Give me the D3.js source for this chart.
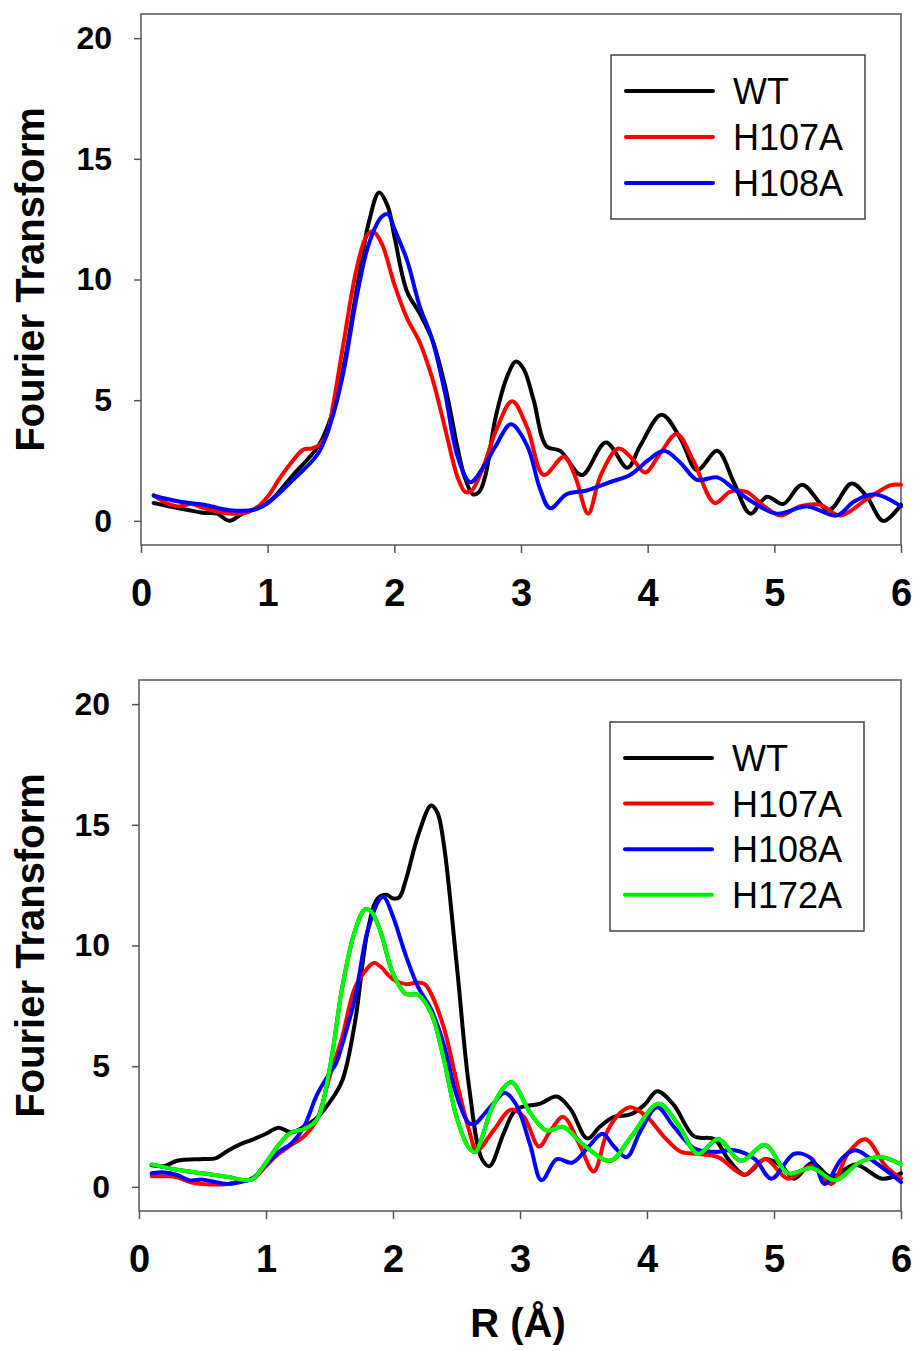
<!DOCTYPE html>
<meta charset="utf-8">
<style>
body { margin: 0; background: #fff; }
text { font-family: 'Liberation Sans', Arial, sans-serif; }
.tick text { font-weight: bold; fill: #000; }
.xaxis .tick text { font-size: 38px; }
.yaxis .tick text { font-size: 32px; }
.tick line { stroke: #555; stroke-width: 1.5px; }
.frame { fill: none; stroke: #555; stroke-width: 1.5px; }
.ytitle, .xtitle { font-size: 40px; font-weight: bold; }
.legendLabel { font-size: 36px; }
.series { fill: none; stroke-width: 4px; stroke-linejoin: round; stroke-linecap: round; }
</style>
<body>
<script src="https://d3js.org/d3.v7.min.js"></script>
<script>

// x ticks / y ticks
const xTicks = [0, 1, 2, 3, 4, 5, 6],
      yTicks = [0, 5, 10, 15, 20];

const topNames = ['WT', 'H107A', 'H108A'],
      bottomNames = ['WT', 'H107A', 'H108A', 'H172A'],
      colors = {WT: '#000000', H107A: '#ff0000', H108A: '#0000ff', H172A: '#00e600'};

// upper panel, [R, FT]
const topWT = [[0.1,0.74],[0.3,0.52],[0.5,0.33],[0.6,0.3],[0.7,0.0],[0.8,0.3],[1.0,0.74],[1.2,1.9],[1.4,3.1],[1.5,4.3],[1.6,6.4],[1.7,9.5],[1.8,12.4],[1.88,13.6],[1.95,13.0],[2.0,11.8],[2.1,9.5],[2.2,8.6],[2.3,7.5],[2.4,5.6],[2.5,3.0],[2.55,1.9],[2.62,1.1],[2.67,1.2],[2.72,1.9],[2.8,4.3],[2.9,6.1],[2.96,6.6],[3.02,6.3],[3.1,5.0],[3.2,3.1],[3.31,2.9],[3.48,1.9],[3.67,3.25],[3.84,2.2],[3.94,3.1],[4.11,4.4],[4.26,3.4],[4.39,2.1],[4.55,2.9],[4.68,1.6],[4.81,0.3],[4.94,1.0],[5.07,0.7],[5.22,1.5],[5.43,0.45],[5.61,1.55],[5.73,1.0],[5.86,0.0],[6.0,0.67]];
const topH107A = [[0.1,1.07],[0.2,0.74],[0.3,0.6],[0.4,0.7],[0.5,0.52],[0.7,0.3],[0.8,0.3],[0.9,0.5],[1.0,1.0],[1.1,1.8],[1.2,2.5],[1.28,2.95],[1.35,3.0],[1.42,3.2],[1.47,3.6],[1.52,4.9],[1.6,7.4],[1.7,10.4],[1.78,11.8],[1.83,12.0],[1.9,11.5],[2.0,9.8],[2.1,8.4],[2.2,7.4],[2.3,5.9],[2.4,3.85],[2.5,1.8],[2.56,1.2],[2.61,1.25],[2.7,2.2],[2.8,3.7],[2.93,4.96],[3.05,3.85],[3.18,1.9],[3.34,2.66],[3.43,1.8],[3.53,0.3],[3.63,1.9],[3.77,3.0],[3.89,2.5],[3.98,2.0],[4.1,2.8],[4.23,3.6],[4.36,2.5],[4.53,0.74],[4.65,1.2],[4.78,1.2],[4.92,0.6],[5.05,0.22],[5.2,0.6],[5.36,0.67],[5.52,0.22],[5.73,0.9],[5.92,1.48],[6.0,1.5]];
const topH108A = [[0.1,1.04],[0.3,0.8],[0.5,0.67],[0.7,0.44],[0.9,0.47],[1.0,0.74],[1.2,1.7],[1.4,2.8],[1.5,4.1],[1.6,6.2],[1.7,9.2],[1.8,11.5],[1.9,12.6],[1.95,12.7],[2.0,12.1],[2.1,10.8],[2.2,8.9],[2.3,7.5],[2.4,5.3],[2.5,2.66],[2.6,1.6],[2.7,2.2],[2.8,3.1],[2.92,4.0],[3.05,3.1],[3.15,1.33],[3.23,0.52],[3.36,1.1],[3.52,1.26],[3.7,1.6],[3.86,1.9],[4.0,2.5],[4.13,2.9],[4.26,2.4],[4.39,1.7],[4.55,1.8],[4.68,1.33],[4.84,0.74],[5.02,0.3],[5.26,0.6],[5.49,0.22],[5.63,0.8],[5.79,1.1],[6.0,0.6]];

// lower panel
const botWT = [[0.1,0.89],[0.2,0.86],[0.3,1.08],[0.5,1.15],[0.6,1.18],[0.7,1.5],[0.8,1.77],[0.9,1.97],[1.0,2.2],[1.1,2.45],[1.2,2.26],[1.3,2.5],[1.4,2.85],[1.5,3.5],[1.6,4.4],[1.7,6.8],[1.8,10.6],[1.88,11.95],[1.95,12.1],[2.0,11.95],[2.05,12.0],[2.1,12.7],[2.2,14.6],[2.3,15.8],[2.35,15.5],[2.4,14.2],[2.5,9.3],[2.6,4.1],[2.7,1.15],[2.76,0.86],[2.87,2.2],[2.97,3.2],[3.16,3.45],[3.29,3.74],[3.4,3.2],[3.53,2.0],[3.63,2.5],[3.74,2.9],[3.87,3.0],[3.98,3.4],[4.08,3.96],[4.21,3.4],[4.37,2.1],[4.53,1.97],[4.64,1.15],[4.77,0.5],[4.93,1.15],[5.06,0.86],[5.16,0.34],[5.3,1.0],[5.45,0.41],[5.64,0.93],[5.85,0.34],[6.0,0.56]];
const botH107A = [[0.1,0.44],[0.2,0.44],[0.3,0.4],[0.4,0.2],[0.5,0.12],[0.7,0.12],[0.8,0.24],[0.9,0.34],[1.0,0.86],[1.1,1.37],[1.2,1.74],[1.3,2.1],[1.4,2.78],[1.5,4.55],[1.6,6.2],[1.7,8.25],[1.8,9.06],[1.85,9.28],[1.9,9.13],[2.0,8.6],[2.1,8.4],[2.2,8.47],[2.25,8.4],[2.3,8.0],[2.4,6.6],[2.5,4.4],[2.6,2.33],[2.66,1.5],[2.79,2.33],[2.93,3.2],[3.03,2.9],[3.15,1.67],[3.24,2.33],[3.34,2.9],[3.47,1.74],[3.58,0.64],[3.69,2.33],[3.79,3.07],[3.87,3.3],[4.0,2.9],[4.14,2.04],[4.27,1.45],[4.4,1.37],[4.56,1.23],[4.69,0.71],[4.77,0.5],[4.93,1.15],[5.11,0.34],[5.3,0.86],[5.45,0.12],[5.59,1.45],[5.72,1.97],[5.88,0.86],[6.0,0.34]];
const botH108A = [[0.1,0.56],[0.2,0.6],[0.3,0.5],[0.4,0.27],[0.5,0.3],[0.6,0.2],[0.7,0.12],[0.8,0.2],[0.9,0.38],[1.0,0.93],[1.1,1.45],[1.2,1.8],[1.3,2.5],[1.4,3.8],[1.5,4.7],[1.55,5.1],[1.6,5.9],[1.7,7.8],[1.8,10.6],[1.9,11.95],[1.93,12.0],[2.0,11.2],[2.1,9.6],[2.2,8.25],[2.3,7.36],[2.4,5.9],[2.5,3.8],[2.6,2.63],[2.65,2.63],[2.7,2.9],[2.79,3.45],[2.88,3.9],[2.97,3.4],[3.08,1.74],[3.17,0.27],[3.29,1.15],[3.41,1.0],[3.53,1.6],[3.65,2.2],[3.74,1.67],[3.84,1.23],[3.95,2.33],[4.08,3.3],[4.21,2.5],[4.37,1.6],[4.53,1.45],[4.69,1.52],[4.85,1.15],[4.98,0.34],[5.16,1.37],[5.3,1.15],[5.4,0.12],[5.53,1.15],[5.64,1.52],[5.8,1.0],[6.0,0.2]];
const botH172A = [[0.1,0.93],[0.3,0.71],[0.5,0.56],[0.7,0.41],[0.85,0.27],[0.9,0.34],[1.0,1.0],[1.1,1.74],[1.2,2.26],[1.3,2.4],[1.4,2.78],[1.5,4.85],[1.6,8.25],[1.7,10.6],[1.78,11.5],[1.83,11.4],[1.9,10.6],[2.0,8.84],[2.1,8.0],[2.2,7.95],[2.3,7.2],[2.4,5.3],[2.5,2.9],[2.6,1.6],[2.65,1.45],[2.7,2.04],[2.79,3.4],[2.93,4.33],[3.08,3.07],[3.21,2.33],[3.34,2.48],[3.5,1.74],[3.71,1.08],[3.87,2.04],[4.09,3.44],[4.24,2.63],[4.4,1.37],[4.56,1.97],[4.74,1.08],[4.93,1.74],[5.11,0.56],[5.3,0.78],[5.48,0.27],[5.67,1.0],[5.85,1.23],[6.0,0.93]];

let svg = d3.select("body").append("svg")
            .attr("width", 915)
            .attr("height", 1351);

drawPanel({left: 141, right: 901, top: 14, bottom: 545,
           names: topNames, series: [topWT, topH107A, topH108A],
           legend: {x: 611, y: 55, w: 254, h: 164, y0: 91, step: 46}});

drawPanel({left: 139, right: 901, top: 680, bottom: 1211,
           names: bottomNames, series: [botWT, botH107A, botH108A, botH172A],
           legend: {x: 610, y: 722, w: 254, h: 209, y0: 758, step: 45.6}});

svg.append("text")
    .attr("class", "xtitle")
    .attr("x", 518)
    .attr("y", 1337)
    .attr("text-anchor", "middle")
    .text("R (Å)");

function drawPanel(p) {
    let x = d3.scaleLinear().domain([0, 6]).range([p.left, p.right]),
        y = d3.scaleLinear().domain([-1, 21]).range([p.bottom, p.top]);

    let g = svg.append("g");

    g.append("rect")
        .attr("class", "frame")
        .attr("x", p.left).attr("y", p.top)
        .attr("width", p.right - p.left)
        .attr("height", p.bottom - p.top);

    g.append("g")
        .attr("class", "xaxis")
        .attr("transform", `translate(0,${p.bottom})`)
        .call(d3.axisBottom(x).tickValues(xTicks).tickFormat(d3.format("d")).tickSize(8).tickPadding(26))
        .call(a => a.select(".domain").remove());

    g.append("g")
        .attr("class", "yaxis")
        .attr("transform", `translate(${p.left},0)`)
        .call(d3.axisLeft(y).tickValues(yTicks).tickFormat(d3.format("d")).tickSize(7).tickPadding(22))
        .call(a => a.select(".domain").remove());

    g.append("text")
        .attr("class", "ytitle")
        .attr("transform", `translate(44,${y(10)}) rotate(-90)`)
        .attr("text-anchor", "middle")
        .text("Fourier Transform");

    let line = d3.line()
        .x(d => x(d[0]))
        .y(d => y(d[1]))
        .curve(d3.curveCatmullRom.alpha(0.5));

    p.series.forEach((s, i) => {
        let name = p.names[i];
        if (name == 'H172A') {
            // green trace has a dark edge
            g.append("path")
                .attr("class", "series")
                .attr("d", line(s))
                .attr("stroke", "#0b3d0b")
                .attr("stroke-width", 4.4);
            g.append("path")
                .attr("class", "series")
                .attr("d", line(s))
                .attr("stroke", "#00ff00")
                .attr("stroke-width", 2.2);
        } else {
            g.append("path")
                .attr("class", "series")
                .attr("d", line(s))
                .attr("stroke", colors[name]);
        }
    });

    let L = p.legend;
    g.append("rect")
        .attr("x", L.x).attr("y", L.y)
        .attr("width", L.w).attr("height", L.h)
        .attr("fill", "#fff")
        .attr("stroke", "#444")
        .attr("stroke-width", 1.5);

    let items = g.selectAll(".item")
        .data(p.names)
        .join("g")
            .attr("class", "item")
            .attr("transform", (d, i) => `translate(${L.x},${L.y0 + i * L.step})`);

    items.append("line")
        .attr("x1", 15).attr("x2", 102)
        .attr("stroke", d => colors[d])
        .attr("stroke-width", 4)
        .attr("stroke-linecap", "round");

    items.append("text")
        .attr("class", "legendLabel")
        .attr("x", 122)
        .attr("dy", "0.36em")
        .text(d => d);
}

</script>
